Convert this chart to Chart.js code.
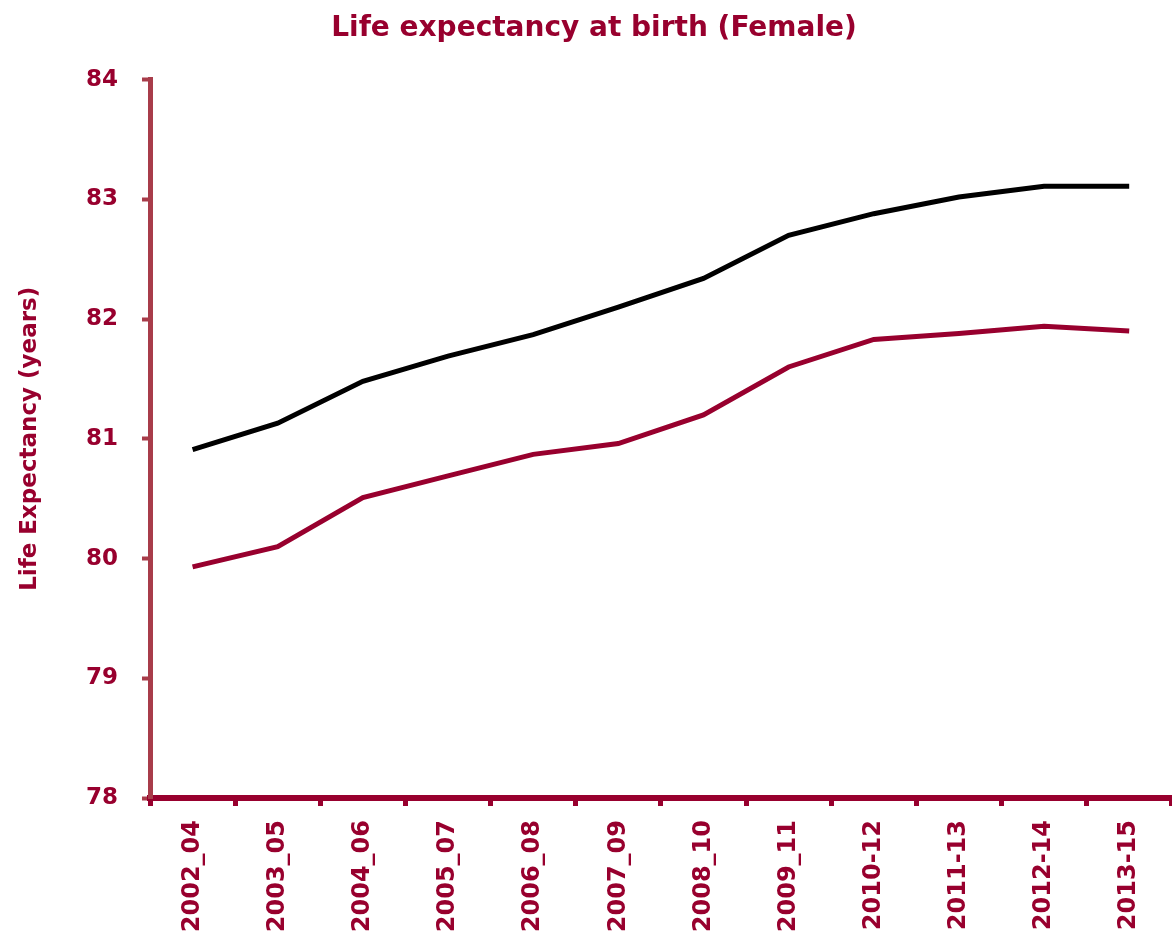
<!DOCTYPE html>
<html>
<head>
<meta charset="utf-8">
<script src="https://cdn.jsdelivr.net/npm/chart.js@4"></script>
<style>
  body { margin: 0; background: #fff; }
  #wrap { width: 1172px; height: 943px; position: relative; }
</style>
</head>
<body>
<div id="wrap"><canvas id="lifeChart"></canvas></div>
<script>
// periods along the x axis
const periods = ['2002_04', '2003_05', '2004_06', '2005_07', '2006_08', '2007_09',
                 '2008_10', '2009_11', '2010-12', '2011-13', '2012-14', '2013-15'];

// upper (black) line
const blackSeries = [80.91, 81.13, 81.48, 81.69, 81.87, 82.10, 82.34, 82.70, 82.88, 83.02, 83.11, 83.11];
// lower (red) line
const redSeries = [79.93, 80.10, 80.51, 80.69, 80.87, 80.96, 81.20, 81.60, 81.83, 81.88, 81.94, 81.90];

const yMin = 78;
const yMax = 84;

const red = '#98002e';
const axisRed = '#a83c4a';

const ctx = document.getElementById('lifeChart').getContext('2d');

window.lifeChart = new Chart(ctx, {
    type: 'line',
    data: {
        labels: periods,
        datasets: [{
            data: blackSeries,
            borderColor: '#000000',
            borderWidth: 5,
            pointRadius: 0,
            tension: 0
        }, {
            data: redSeries,
            borderColor: red,
            borderWidth: 5,
            pointRadius: 0,
            tension: 0
        }]
    },
    options: {
        responsive: true,
        maintainAspectRatio: false,
        animation: false,
        layout: { padding: { top: 0, right: 0, left: 16, bottom: 0 } },
        plugins: {
            legend: { display: false },
            tooltip: { enabled: false },
            title: {
                display: true,
                text: 'Life expectancy at birth (Female)',
                color: red,
                font: { family: 'DejaVu Sans', size: 28, weight: 'bold' },
                padding: { top: 12, bottom: 34 }
            }
        },
        scales: {
            x: {
                offset: true,
                border: { color: red, width: 6 },
                grid: {
                    offset: true,
                    drawOnChartArea: false,
                    tickLength: 8,
                    tickColor: red,
                    tickWidth: 5
                },
                ticks: {
                    color: red,
                    font: { family: 'DejaVu Sans', size: 24, weight: 'bold' },
                    maxRotation: 90,
                    minRotation: 90,
                    padding: 14
                },
                afterFit: function(scale) { scale.height = 145; }
            },
            y: {
                min: yMin,
                max: yMax,
                border: { color: axisRed, width: 5 },
                grid: {
                    drawOnChartArea: false,
                    tickLength: 8,
                    tickColor: axisRed,
                    tickWidth: 4
                },
                ticks: {
                    stepSize: 1,
                    color: red,
                    font: { family: 'DejaVu Sans', size: 23, weight: 'bold' },
                    padding: 24
                },
                title: {
                    display: true,
                    text: 'Life Expectancy (years)',
                    color: red,
                    font: { family: 'DejaVu Sans', size: 23, weight: 'bold' },
                    padding: { top: 0, bottom: 6 }
                },
                afterFit: function(scale) { scale.width = 134; }
            }
        }
    }
});
</script>
</body>
</html>
